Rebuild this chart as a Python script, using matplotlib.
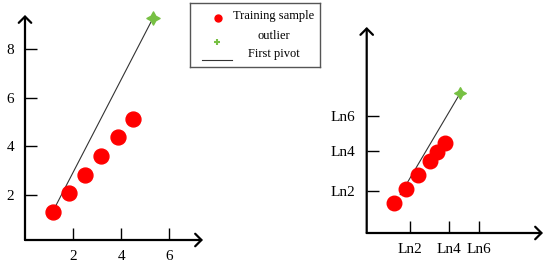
import matplotlib.pyplot as plt
from matplotlib.lines import Line2D

plt.rcParams['font.family'] = ['Liberation Serif', 'DejaVu Serif']

# --- data: left panel (raw values) ---
left_x = [1.15, 1.83, 2.51, 3.18, 3.85, 4.51]
left_y = [1.31, 2.07, 2.83, 3.61, 4.37, 5.14]
left_outlier_x = [5.32]
left_outlier_y = [9.27]
left_pivot_x = [1.25, 5.32]
left_pivot_y = [1.50, 9.27]
left_ticks = [2, 4, 6]
left_yticks = [2, 4, 6, 8]

# --- data: right panel (log values) ---
right_x = [0.45, 0.65, 0.84, 1.03, 1.16, 1.29]
right_y = [0.49, 0.72, 0.95, 1.18, 1.33, 1.48]
right_outlier_x = [1.53]
right_outlier_y = [2.29]
right_pivot_x = [0.55, 1.53]
right_pivot_y = [0.63, 2.29]
right_xticks = [0.71, 1.35, 1.84]
right_yticks = [0.69, 1.34, 1.92]
right_ticklabels = ["Ln2", "Ln4", "Ln6"]

red = "#ff0000"
green = "#77c043"
star = (4, 1, 0)

W, H = 550, 263
fig = plt.figure(figsize=(5.5, 2.63), dpi=100)


def px_axes(x0, y0, x1, y1):
    # axes from pixel box (top-left origin)
    return fig.add_axes([x0 / W, 1 - y1 / H, (x1 - x0) / W, (y1 - y0) / H])


def style(ax):
    for s in ax.spines.values():
        s.set_visible(False)
    ax.tick_params(direction="in", length=8.5, width=1.0, labelsize=11, pad=7)
    ax.tick_params(axis="y", pad=8)
    arrow = dict(arrowstyle="->, head_length=0.3, head_width=0.3", lw=1.6,
                 color="black", shrinkA=0, shrinkB=0, mutation_scale=15)
    ax.annotate("", xy=(1, 0), xytext=(0, 0), xycoords="axes fraction",
                arrowprops=arrow)
    ax.annotate("", xy=(0, 1), xytext=(0, 0), xycoords="axes fraction",
                arrowprops=arrow)


# --- left panel ---
ax1 = px_axes(25, 15, 203, 240)
style(ax1)
ax1.set_xlim(0, 7.4)
ax1.set_ylim(0.15, 9.4)
ax1.plot(left_pivot_x, left_pivot_y, color="#333333", lw=0.8, zorder=2)
ax1.scatter(left_x, left_y, s=115, color=red, zorder=3, clip_on=False)
ax1.scatter(left_outlier_x, left_outlier_y, s=90, marker=star, color=green,
            zorder=4, clip_on=False)
ax1.set_xticks(left_ticks)
ax1.set_yticks(left_yticks)

# --- right panel ---
ax2 = px_axes(366.7, 27, 543, 233)
style(ax2)
ax2.set_xlim(0, 2.89)
ax2.set_ylim(0, 3.38)
ax2.plot(right_pivot_x, right_pivot_y, color="#333333", lw=0.8, zorder=2)
ax2.scatter(right_x, right_y, s=110, color=red, zorder=3, clip_on=False)
ax2.scatter(right_outlier_x, right_outlier_y, s=70, marker=star, color=green,
            zorder=4, clip_on=False)
ax2.set_xticks(right_xticks, right_ticklabels)
ax2.set_yticks(right_yticks, right_ticklabels)

# --- legend box (text centred like the original) ---
lg = px_axes(190, 3, 320, 67)
lg.set_xlim(0, 1)
lg.set_ylim(0, 1)
lg.set_xticks([])
lg.set_yticks([])
for s in lg.spines.values():
    s.set_color("#555555")
    s.set_linewidth(1)
lg.add_line(Line2D([0.213], [0.76], marker="o", color=red, markersize=5, ls=""))
lg.add_line(Line2D([0.208], [0.39], marker="+", color=green, markersize=5,
                   mew=1.5, ls=""))
lg.add_line(Line2D([0.09, 0.32], [0.11, 0.11], color="#333333", lw=0.8))
labels = ["Training sample", "outlier", "First pivot"]
for lab, yy in zip(labels, [0.80, 0.49, 0.20]):
    lg.text(0.642, yy, lab, ha="center", va="center", fontsize=9)

fig.savefig("out.png", dpi=100)
